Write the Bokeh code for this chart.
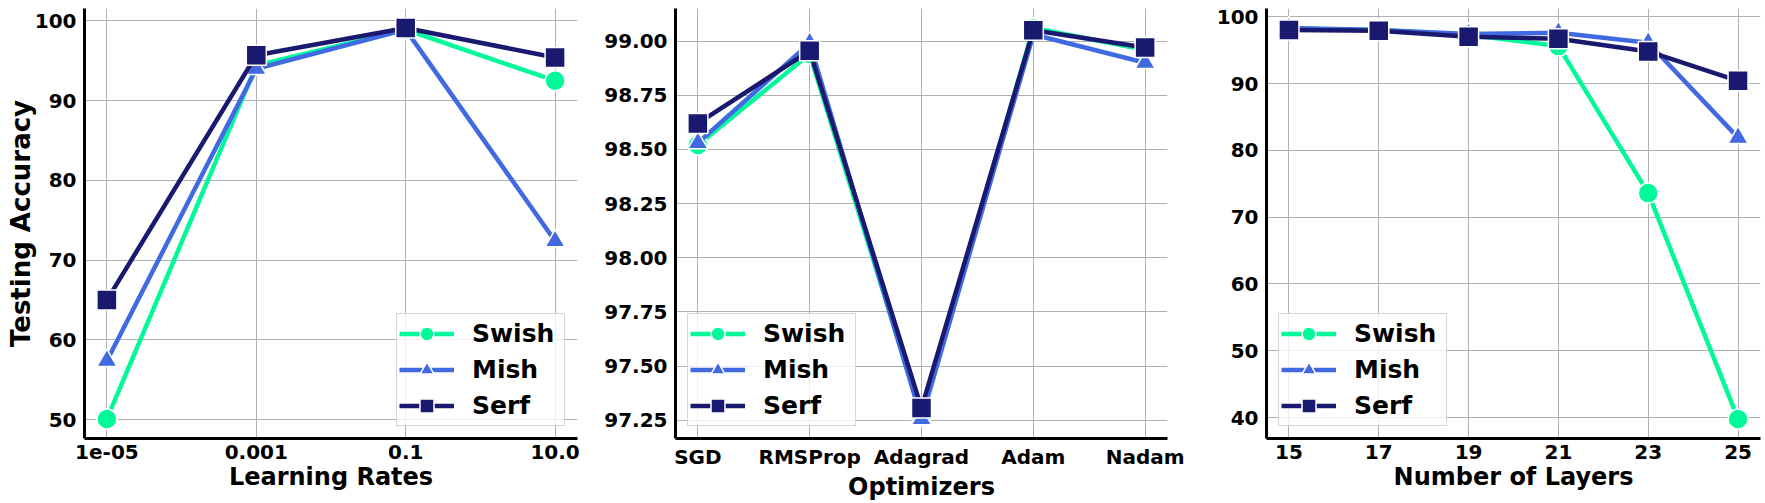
from bokeh.plotting import figure
from bokeh.layouts import row
from bokeh.models import Range1d, FixedTicker, PrintfTickFormatter
from bokeh.embed import file_html
from bokeh.resources import INLINE

# ---------------- data ----------------
series_names = ["Swish", "Mish", "Serf"]
series_colors = ["#00FA9A", "#4169E1", "#191970"]
series_markers = ["circle", "triangle", "square"]

lr_labels = ["1e-05", "0.001", "0.1", "10.0"]
lr_swish = [50.1, 94.4, 98.9, 92.5]
lr_mish = [57.4, 94.0, 98.9, 72.4]
lr_serf = [65.0, 95.7, 99.1, 95.4]

opt_labels = ["SGD", "RMSProp", "Adagrad", "Adam", "Nadam"]
opt_swish = [98.52, 98.94, 97.27, 99.06, 98.96]
opt_mish = [98.53, 98.99, 97.256, 99.03, 98.90]
opt_serf = [98.62, 98.955, 97.306, 99.05, 98.97]

layers = [15, 17, 19, 21, 23, 25]
lay_swish = [98.2, 98.0, 97.3, 95.6, 73.6, 39.8]
lay_mish = [98.3, 98.0, 97.4, 97.6, 96.1, 81.9]
lay_serf = [98.0, 97.9, 97.0, 96.7, 94.8, 90.4]

lr_yticks = [50, 60, 70, 80, 90, 100]
opt_yticks = [97.25, 97.5, 97.75, 98.0, 98.25, 98.5, 98.75, 99.0]
lay_yticks = [40, 50, 60, 70, 80, 90, 100]

FONT = "DejaVu Sans"


def padded(lo, hi, frac=0.05):
    d = (hi - lo) * frac
    return lo - d, hi + d


def make_panel(xs, ys_list, xticks, xlabels, yticks, xlabel, ylabel,
               width, left, right, legend_loc, yfmt=None):
    allv = [v for ys in ys_list for v in ys]
    y0, y1 = padded(min(allv), max(allv))
    x0, x1 = padded(min(xs), max(xs))
    p = figure(width=width, height=503, output_backend="svg", toolbar_location=None,
               x_range=Range1d(x0, x1), y_range=Range1d(y0, y1),
               min_border_left=left, min_border_right=right,
               min_border_top=8, min_border_bottom=62)
    p.outline_line_color = None
    p.background_fill_color = "white"
    p.border_fill_color = "white"

    for name, color, marker, ys in zip(series_names, series_colors, series_markers, ys_list):
        p.line(xs, ys, line_color=color, line_width=4.5, legend_label=name)
        p.scatter(xs, ys, marker=marker, size=20, fill_color=color,
                  line_color="white", line_width=1.5, legend_label=name)

    for ax in (p.xaxis[0], p.yaxis[0]):
        ax.axis_line_color = "black"
        ax.axis_line_width = 3
        ax.major_tick_line_color = None
        ax.minor_tick_line_color = None
        ax.major_tick_out = 0
        ax.major_tick_in = 0
        ax.major_label_text_font = FONT
        ax.major_label_text_font_style = "bold"
        ax.major_label_text_font_size = "20px"
        ax.major_label_text_color = "black"
        ax.axis_label_text_font = FONT
        ax.axis_label_text_font_style = "bold"
        ax.axis_label_text_color = "black"
    p.xaxis.axis_label_text_font_size = "24px"
    p.yaxis.axis_label_text_font_size = "26px"

    p.xaxis.ticker = FixedTicker(ticks=xticks)
    if xlabels is not None:
        p.xaxis.major_label_overrides = {t: lab for t, lab in zip(xticks, xlabels)}
    p.yaxis.ticker = FixedTicker(ticks=yticks)
    if yfmt:
        p.yaxis.formatter = PrintfTickFormatter(format=yfmt)
    p.xaxis.major_label_standoff = 6
    p.yaxis.major_label_standoff = 8
    p.xaxis.axis_label_standoff = 1
    p.yaxis.axis_label_standoff = -4
    p.xaxis.axis_label = xlabel
    if ylabel:
        p.yaxis.axis_label = ylabel

    for g in (p.xgrid[0], p.ygrid[0]):
        g.grid_line_color = "#b0b0b0"
        g.grid_line_width = 1

    lg = p.legend[0]
    lg.location = legend_loc
    lg.margin = 12
    lg.padding = 2
    lg.spacing = 1
    lg.glyph_width = 55
    lg.glyph_height = 35
    lg.label_height = 30
    lg.label_width = 90
    lg.label_standoff = 18
    lg.label_text_font = FONT
    lg.label_text_font_style = "bold"
    lg.label_text_font_size = "25px"
    lg.label_text_color = "black"
    lg.background_fill_color = "white"
    lg.background_fill_alpha = 0.8
    lg.border_line_color = "#cccccc"
    lg.border_line_alpha = 0.8
    lg.border_line_width = 1
    return p


lr_x = list(range(len(lr_labels)))
opt_x = list(range(len(opt_labels)))

p1 = make_panel(lr_x, [lr_swish, lr_mish, lr_serf], lr_x, lr_labels, lr_yticks,
                "Learning Rates", "Testing Accuracy", 595, 84, 18, "bottom_right")
p2 = make_panel(opt_x, [opt_swish, opt_mish, opt_serf], opt_x, opt_labels, opt_yticks,
                "Optimizers", None, 592, 80, 20, "bottom_left", yfmt="%.2f")
p3 = make_panel(layers, [lay_swish, lay_mish, lay_serf], layers, None, lay_yticks,
                "Number of Layers", None, 578, 79, 5, "bottom_left")

layout = row(p1, p2, p3, spacing=0)
open("out.html", "w").write(file_html(layout, INLINE))
